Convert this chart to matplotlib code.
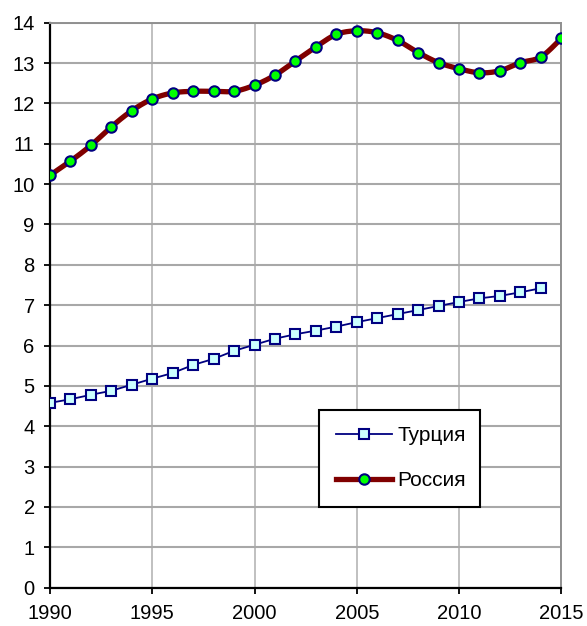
import numpy as np
import matplotlib
matplotlib.use("Agg")
import matplotlib.pyplot as plt
from matplotlib.lines import Line2D

years_turkey = list(range(1990, 2015))
turkey = [4.58, 4.67, 4.78, 4.88, 5.03, 5.18, 5.32, 5.52, 5.67, 5.87, 6.02,
          6.17, 6.28, 6.37, 6.47, 6.58, 6.68, 6.78, 6.88, 6.98, 7.08, 7.17,
          7.23, 7.32, 7.42]
years_russia = list(range(1990, 2016))
russia = [10.22, 10.57, 10.96, 11.42, 11.82, 12.11, 12.26, 12.30, 12.30, 12.30,
          12.45, 12.70, 13.05, 13.40, 13.71, 13.80, 13.75, 13.56, 13.26, 13.01,
          12.86, 12.76, 12.81, 13.01, 13.15, 13.61]
label_turkey = "Турция"
label_russia = "Россия"
xticks = [1990, 1995, 2000, 2005, 2010, 2015]
yticks = list(range(0, 15))

plt.rcParams['font.family'] = ['Liberation Sans', 'DejaVu Sans']

def smooth(x, y, n=20):
    x = np.asarray(x, float); y = np.asarray(y, float)
    xs, ys = [], []
    for i in range(len(x) - 1):
        p0 = (x[max(i-1, 0)], y[max(i-1, 0)])
        p1 = (x[i], y[i]); p2 = (x[i+1], y[i+1])
        p3 = (x[min(i+2, len(x)-1)], y[min(i+2, len(x)-1)])
        c1 = (p1[0] + (p2[0]-p0[0])/6, p1[1] + (p2[1]-p0[1])/6)
        c2 = (p2[0] - (p3[0]-p1[0])/6, p2[1] - (p3[1]-p1[1])/6)
        t = np.linspace(0, 1, n, endpoint=False)
        bx = (1-t)**3*p1[0] + 3*(1-t)**2*t*c1[0] + 3*(1-t)*t**2*c2[0] + t**3*p2[0]
        by = (1-t)**3*p1[1] + 3*(1-t)**2*t*c1[1] + 3*(1-t)*t**2*c2[1] + t**3*p2[1]
        xs.extend(bx); ys.extend(by)
    xs.append(x[-1]); ys.append(y[-1])
    return np.array(xs), np.array(ys)

fig = plt.figure(figsize=(5.87, 6.26), dpi=100)
ax = fig.add_axes([50/587, 1-587.7/626, 511.3/587, 565/626])

ax.plot(years_turkey, turkey, color='#000080', lw=1.3, marker='s', ms=7,
        mfc='#ccffff', mec='#000080', mew=1.5, zorder=3)
sx, sy = smooth(years_russia, russia)
ax.plot(sx, sy, color='#800000', lw=3.8, solid_capstyle='round', zorder=4)
ax.plot(years_russia, russia, ls='none', marker='o', ms=7.5,
        mfc='#00ff00', mec='#000080', mew=1.5, zorder=5)

ax.set_xlim(1990, 2015)
ax.set_ylim(0, 14)
ax.set_xticks(xticks)
ax.set_yticks(yticks)
ax.xaxis.grid(True, color='#c0c0c0', lw=1.4)
ax.yaxis.grid(True, color='#a8a8a8', lw=1.5)
ax.set_axisbelow(True)
for s in ['top', 'right']:
    ax.spines[s].set_color('#909090')
    ax.spines[s].set_linewidth(1.4)
for s in ['left', 'bottom']:
    ax.spines[s].set_color('black')
    ax.spines[s].set_linewidth(1.6)
ax.tick_params(direction='out', length=4.5, width=1.3, labelsize=14.5, colors='black')
ax.tick_params(axis='y', pad=6.5)
ax.tick_params(axis='x', pad=7)

h1 = Line2D([], [], color='#000080', lw=1.3, marker='s', ms=7,
            mfc='#ccffff', mec='#000080', mew=1.5)
h2 = Line2D([], [], color='#800000', lw=3.8, marker='o', ms=7.5,
            mfc='#00ff00', mec='#000080', mew=1.5)
leg = ax.legend([h1, h2], [label_turkey, label_russia], loc='lower left',
                bbox_to_anchor=(0.526, 0.143, 0.315, 0.172), mode='expand',
                fontsize=15, frameon=True, fancybox=False, borderpad=0.8,
                labelspacing=1.25, handlelength=2.7, handletextpad=0.25,
                borderaxespad=0)
leg.get_frame().set_edgecolor('black')
leg.get_frame().set_linewidth(1.5)
leg.get_frame().set_facecolor('white')
leg.get_frame().set_alpha(1)

fig.savefig('out.png', dpi=100)
